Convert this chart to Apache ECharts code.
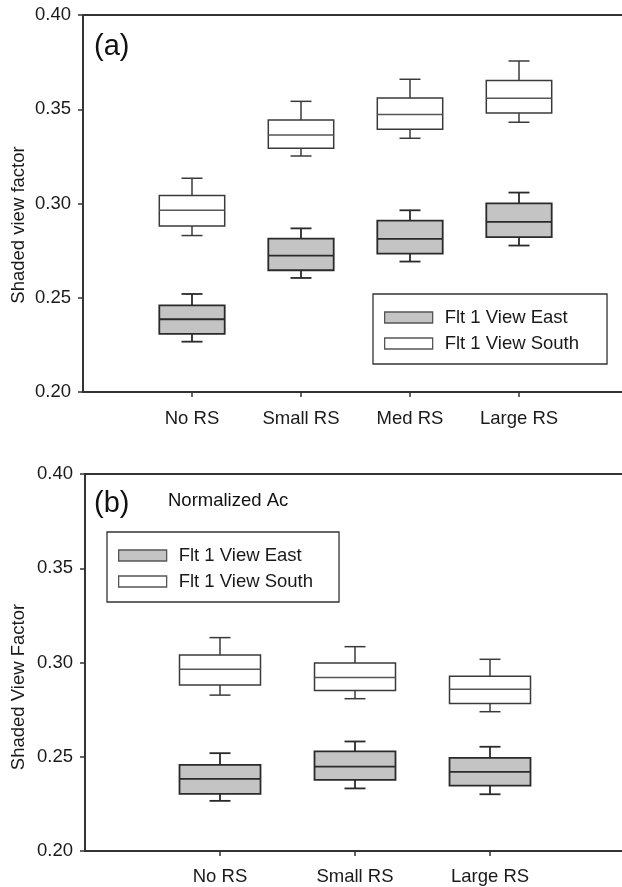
<!DOCTYPE html>
<html>
<head>
<meta charset="utf-8">
<script src="https://cdn.jsdelivr.net/npm/echarts@6/dist/echarts.min.js"></script>
<style>
  html, body { margin: 0; padding: 0; background: #fff; }
  #chart { width: 622px; height: 887px; }
</style>
</head>
<body>
<div id="chart"></div>
<script>
// panel (a)
const catsA = ["No RS", "Small RS", "Med RS", "Large RS"];
// [min, q1, median, q3, max]
const eastA = [
  [0.2267, 0.2308, 0.2386, 0.2460, 0.2520],
  [0.2605, 0.2646, 0.2724, 0.2814, 0.2868],
  [0.2692, 0.2734, 0.2812, 0.2909, 0.2964],
  [0.2777, 0.2822, 0.2902, 0.3001, 0.3058]
];
const southA = [
  [0.2830, 0.2881, 0.2964, 0.3043, 0.3134],
  [0.3252, 0.3293, 0.3363, 0.3443, 0.3542],
  [0.3346, 0.3394, 0.3472, 0.3560, 0.3659],
  [0.3431, 0.3480, 0.3558, 0.3652, 0.3756]
];

// panel (b)
const catsB = ["No RS", "Small RS", "Large RS"];
const eastB = [
  [0.2266, 0.2303, 0.2383, 0.2457, 0.2519],
  [0.2332, 0.2377, 0.2448, 0.2528, 0.2581],
  [0.2301, 0.2347, 0.2420, 0.2494, 0.2553]
];
const southB = [
  [0.2827, 0.2880, 0.2964, 0.3040, 0.3132],
  [0.2808, 0.2852, 0.2921, 0.2997, 0.3084],
  [0.2739, 0.2783, 0.2858, 0.2927, 0.3017]
];

const yTicks = [0.20, 0.25, 0.30, 0.35, 0.40];

const FONT = "Liberation Sans";
const FS = 18.5;
const INK = "#1a1a1a";
const NAME_E = "Flt 1 View East";
const NAME_S = "Flt 1 View South";
const GRAY = "#c4c4c4";

const chart = echarts.init(document.getElementById("chart"));

// pad the category list so the boxes sit on ticks 1..n like the original
const padCats = cats => ["", ...cats, ""];
const toRows = arr => arr.map((d, i) => [i + 1, ...d]);

function renderBox(params, api) {
  const x = api.value(0);
  const lo = api.coord([x, api.value(1)]);
  const q1 = api.coord([x, api.value(2)]);
  const md = api.coord([x, api.value(3)]);
  const q3 = api.coord([x, api.value(4)]);
  const hi = api.coord([x, api.value(5)]);
  const band = api.size([1, 0])[0];
  const bw = band * 0.6;
  const cw = 21;
  const cx = lo[0];
  const east = params.seriesName === NAME_E;
  const stroke = east ? "#2a2a2a" : "#3a3a3a";
  const lw = east ? 1.8 : 1.5;
  const line = (x1, y1, x2, y2, c) => ({
    type: "line",
    shape: { x1, y1, x2, y2 },
    style: { stroke: c || stroke, lineWidth: lw }
  });
  return {
    type: "group",
    children: [
      line(cx, hi[1], cx, q3[1]),
      line(cx - cw / 2, hi[1], cx + cw / 2, hi[1]),
      line(cx, q1[1], cx, lo[1]),
      line(cx - cw / 2, lo[1], cx + cw / 2, lo[1]),
      {
        type: "rect",
        shape: { x: cx - bw / 2, y: q3[1], width: bw, height: q1[1] - q3[1] },
        style: { fill: east ? GRAY : "#fff", stroke, lineWidth: lw }
      },
      line(cx - bw / 2, md[1], cx + bw / 2, md[1], east ? stroke : "#555")
    ]
  };
}

function xAxisFor(cats, gridIndex, margin) {
  const data = padCats(cats);
  return {
    type: "category",
    gridIndex,
    data,
    boundaryGap: false,
    axisLine: { lineStyle: { color: "#333", width: 1.8 } },
    axisTick: { length: 5, interval: i => i > 0 && i < data.length - 1, lineStyle: { color: "#333", width: 1.5 } },
    axisLabel: { interval: 0, margin, fontSize: FS, fontFamily: FONT, color: INK },
    splitLine: { show: false }
  };
}

function yAxisFor(gridIndex) {
  return {
    type: "value",
    gridIndex,
    min: yTicks[0],
    max: yTicks[yTicks.length - 1],
    interval: 0.05,
    axisLine: { show: true, lineStyle: { color: "#333", width: 1.8 } },
    axisTick: { show: true, length: 5, lineStyle: { color: "#333", width: 1.5 } },
    axisLabel: { margin: 12, fontSize: FS, fontFamily: FONT, color: INK, formatter: v => v.toFixed(2) },
    splitLine: { show: false }
  };
}

function boxSeries(name, arr, idx) {
  return {
    name,
    type: "custom",
    xAxisIndex: idx,
    yAxisIndex: idx,
    renderItem: renderBox,
    encode: { x: 0, y: [1, 2, 3, 4, 5] },
    itemStyle: { color: name === NAME_E ? GRAY : "#fff" },
    data: toRows(arr)
  };
}

function legendAt(left, top, padRight) {
  return {
    left, top,
    orient: "vertical",
    selectedMode: false,
    icon: "rect",
    itemWidth: 48,
    itemHeight: 11,
    itemGap: 7,
    padding: [14, padRight, 11, 11],
    backgroundColor: "#fff",
    borderColor: "#333",
    borderWidth: 1.3,
    textStyle: { fontSize: FS, fontFamily: FONT, color: INK, padding: [0, 0, 0, 7] },
    data: [
      { name: NAME_E, itemStyle: { color: GRAY, borderColor: "#555", borderWidth: 1.3 } },
      { name: NAME_S, itemStyle: { color: "#fff", borderColor: "#555", borderWidth: 1.3 } }
    ]
  };
}

const option = {
  animation: false,
  backgroundColor: "#fff",
  grid: [
    { left: 83, top: 15, width: 109 * 5, height: 377, outerBoundsMode: "none", show: true, borderColor: "#333", borderWidth: 1.8 },
    { left: 85, top: 474, width: 135 * 4, height: 377, outerBoundsMode: "none", show: true, borderColor: "#333", borderWidth: 1.8 }
  ],
  xAxis: [xAxisFor(catsA, 0, 17), xAxisFor(catsB, 1, 16)],
  yAxis: [yAxisFor(0), yAxisFor(1)],
  legend: [legendAt(373, 294, 28), legendAt(107, 532, 26)],
  series: [
    boxSeries(NAME_E, eastA, 0),
    boxSeries(NAME_S, southA, 0),
    boxSeries(NAME_E, eastB, 1),
    boxSeries(NAME_S, southB, 1)
  ],
  graphic: [
    { type: "text", left: 94, top: 32, style: { text: "(a)", fontSize: 29, fontFamily: FONT, fill: "#111" } },
    { type: "text", left: 94, top: 489, style: { text: "(b)", fontSize: 29, fontFamily: FONT, fill: "#111" } },
    { type: "text", left: 168, top: 491, style: { text: "Normalized Ac", fontSize: FS, fontFamily: FONT, fill: "#111" } },
    { type: "text", x: 18.5, y: 225, rotation: Math.PI / 2,
      style: { text: "Shaded view factor", fontSize: FS, fontFamily: FONT, fill: INK, align: "center", verticalAlign: "middle" } },
    { type: "text", x: 18.5, y: 687, rotation: Math.PI / 2,
      style: { text: "Shaded View Factor", fontSize: FS, fontFamily: FONT, fill: INK, align: "center", verticalAlign: "middle" } }
  ]
};

chart.setOption(option);
window.addEventListener("resize", () => chart.resize());
</script>
</body>
</html>
